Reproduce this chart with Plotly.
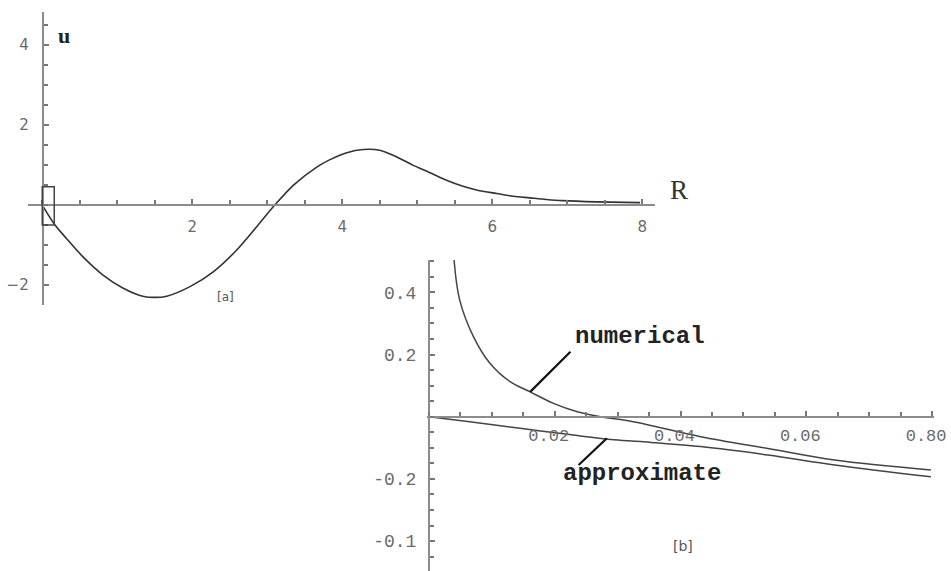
import plotly.graph_objects as go

# panel (a): u(R)
R_a = [0, 0.17, 0.32, 0.54, 0.81, 1.08, 1.34, 1.5, 1.66, 1.97, 2.28, 2.59, 2.86, 3.1,
       3.35, 3.66, 3.83, 4.06, 4.28, 4.5, 4.72, 4.94, 5.17, 5.39, 5.61, 5.83, 6.06,
       6.28, 6.5, 6.72, 6.94, 7.39, 7.97]
u_a = [0, -0.5, -0.83, -1.29, -1.75, -2.08, -2.28, -2.31, -2.28, -2.04, -1.67, -1.13,
       -0.54, 0, 0.5, 0.95, 1.13, 1.31, 1.39, 1.37, 1.21, 1.0, 0.81, 0.62, 0.47, 0.36,
       0.29, 0.22, 0.18, 0.14, 0.11, 0.08, 0.06]

# panel (b): close-up near the origin
x_num = [0.0040, 0.0049, 0.0071, 0.0097, 0.0129, 0.0161, 0.0198, 0.0236, 0.0273,
         0.0325, 0.0432, 0.0539, 0.0645, 0.0798]
y_num = [0.504, 0.375, 0.257, 0.172, 0.113, 0.080, 0.043, 0.016, 0.0,
         -0.016, -0.064, -0.102, -0.139, -0.171]
x_app = [0, 0.0065, 0.0145, 0.023, 0.0289, 0.0337, 0.0432, 0.0539, 0.0645, 0.0798]
y_app = [0, -0.016, -0.037, -0.059, -0.073, -0.080, -0.096, -0.123, -0.155, -0.193]

a_xticks = [2, 4, 6, 8]
a_yticks = [-2, 2, 4]
b_xticks = [0.02, 0.04, 0.06, 0.08]
b_xtext = ["0.02", "0.04", "0.06", "0.80"]
b_yticks = [-0.4, -0.2, 0.2, 0.4]
b_ytext = ["-0.1", "-0.2", "0.2", "0.4"]

W, H = 951, 571
def px(x): return x / W
def py(y): return 1 - y / H

AX = '#8c8c8c'
LBL = '#6a6a6a'
MONO = 'Liberation Mono, Courier New, monospace'

fig = go.Figure()
fig.add_trace(go.Scatter(x=R_a, y=u_a, mode='lines',
                         line=dict(color='#333', width=1.6, shape='spline', smoothing=0.8),
                         xaxis='x', yaxis='y', showlegend=False, cliponaxis=False))
fig.add_trace(go.Scatter(x=x_num, y=y_num, mode='lines', line=dict(color='#444', width=1.5, shape='spline'),
                         xaxis='x2', yaxis='y2', showlegend=False))
fig.add_trace(go.Scatter(x=x_app, y=y_app, mode='lines', line=dict(color='#444', width=1.5, shape='spline'),
                         xaxis='x2', yaxis='y2', showlegend=False))

def axis(**kw):
    d = dict(showgrid=False, zeroline=False, showline=True, linecolor=AX, linewidth=2,
             ticks='inside', ticklen=5, tickwidth=1.5, tickcolor='#777', anchor='free',
             tickmode='array', ticklabeloverflow='allow', automargin=False)
    d.update(kw)
    return d

fig.update_layout(
    width=W, height=H, margin=dict(l=0, r=0, t=0, b=0, autoexpand=False),
    paper_bgcolor='white', plot_bgcolor='rgba(0,0,0,0)',
    xaxis=axis(domain=[px(28), px(655)], range=[-0.19, 8.17], position=py(205),
               tickvals=a_xticks, ticklabelstandoff=8,
               minor=dict(tickmode='linear', tick0=0, dtick=0.5, ticks='inside', ticklen=4, tickcolor='#777'),
               tickfont=dict(family='DejaVu Sans', size=15, color=LBL)),
    yaxis=axis(domain=[py(305), py(12)], range=[-2.5, 4.83], position=px(42.7),
               tickvals=a_yticks, ticklabelstandoff=10,
               minor=dict(tickmode='linear', tick0=0, dtick=0.5, ticks='inside', ticklen=4, tickcolor='#777'),
               tickfont=dict(family='DejaVu Sans', size=15, color=LBL)),
    xaxis2=axis(domain=[px(427), px(934)], range=[-0.0003, 0.0803], position=py(416.7),
                tickvals=b_xticks, ticktext=b_xtext, ticklabelstandoff=3, ticklabelshift=-6,
                minor=dict(tickmode='linear', tick0=0, dtick=0.005, ticks='inside', ticklen=4, tickcolor='#777'),
                tickfont=dict(family=MONO, size=17, color=LBL)),
    yaxis2=axis(domain=[0, py(260)], range=[-0.496, 0.504], position=px(429),
                tickvals=b_yticks, ticktext=b_ytext, ticklabelstandoff=8,
                minor=dict(tickmode='linear', tick0=0, dtick=0.05, ticks='inside', ticklen=4, tickcolor='#777'),
                tickfont=dict(family=MONO, size=18, color=LBL)),
)

# small box marking the zoomed region in (a)
fig.add_shape(type='rect', xref='x', yref='y', x0=0, x1=0.16, y0=-0.5, y1=0.46,
              line=dict(color='#444', width=1.5))

# pointer lines in (b)
fig.add_shape(type='line', xref='x2', yref='y2', x0=0.0161, y0=0.080, x1=0.0225, y1=0.209,
              line=dict(color='#111', width=2.2))
fig.add_shape(type='line', xref='x2', yref='y2', x0=0.0283, y0=-0.069, x1=0.0238, y1=-0.155,
              line=dict(color='#111', width=2.2))

notes = [
    dict(text='<b>u</b>', x=px(64), y=py(35), font=dict(family='Liberation Serif', size=22, color='#222')),
    dict(text='R', x=px(679), y=py(190), font=dict(family='Liberation Serif', size=27, color='#333')),
    dict(text='[a]', x=px(225), y=py(297), font=dict(family='DejaVu Sans', size=12, color='#555')),
    dict(text='[b]', x=px(683), y=py(546), font=dict(family='DejaVu Sans', size=14, color='#555')),
    dict(text='<b>numerical</b>', x=px(640), y=py(336), font=dict(family=MONO, size=24, color='#222')),
    dict(text='<b>approximate</b>', x=px(642), y=py(473), font=dict(family=MONO, size=24, color='#222')),
]
for n in notes:
    fig.add_annotation(xref='paper', yref='paper', showarrow=False, xanchor='center', yanchor='middle', **n)

fig.write_html("out.html", config={'displayModeBar': False, 'responsive': False},
               post_script="document.body.style.margin='0px';document.body.style.overflow='hidden';")
